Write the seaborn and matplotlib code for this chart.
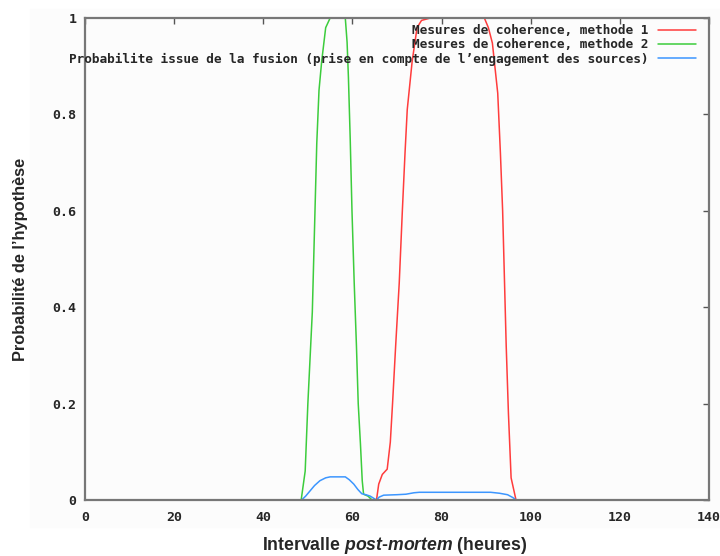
import numpy as np
import pandas as pd
import seaborn as sns
import matplotlib.pyplot as plt
from matplotlib.patches import Rectangle
from matplotlib.ticker import FuncFormatter

# curves (x in hours, y probability)
x_m1 = [0, 65.4, 65.9, 66.7, 67.8, 68.5, 69.0, 69.7, 70.5, 71.2, 71.8, 72.3, 73.4, 74.5, 75.5, 77.5,
        89.6, 90.5, 91.4, 92.6, 93.2, 93.7, 94.5, 95.0, 95.6, 96.7, 140]
y_m1 = [0, 0, 0.033, 0.053, 0.064, 0.12, 0.2, 0.32, 0.45, 0.60, 0.72, 0.81, 0.91, 0.98, 0.995, 1.0,
        1.0, 0.98, 0.948, 0.844, 0.72, 0.60, 0.32, 0.18, 0.046, 0, 0]

x_m2 = [0, 48.5, 49.4, 50.0, 51.0, 51.6, 52.0, 52.5, 53.1, 54.0, 55.0, 58.4, 58.8, 59.1, 59.5,
        59.9, 60.4, 60.9, 61.3, 61.8, 62.2, 62.5, 63.5, 64.4, 140]
y_m2 = [0, 0, 0.06, 0.2, 0.39, 0.6, 0.74, 0.85, 0.91, 0.98, 1.0, 1.0, 0.95, 0.877, 0.75,
        0.60, 0.45, 0.32, 0.2, 0.116, 0.04, 0.012, 0.008, 0, 0]

x_fus = [0, 48.6, 49.5, 50.5, 51.5, 52.7, 54.0, 55.0, 58.4, 59.3, 60.3, 61.2, 62.1, 63.0, 64.0,
         65.4, 66.0, 67.0, 70.0, 72.0, 73.8, 75.0, 91.0, 93.0, 94.8, 96.0, 96.7, 140]
y_fus = [0, 0, 0.008, 0.019, 0.03, 0.040, 0.046, 0.048, 0.048, 0.042, 0.033, 0.022, 0.013, 0.011, 0.008,
         0.0, 0.006, 0.01, 0.011, 0.012, 0.015, 0.016, 0.016, 0.014, 0.011, 0.005, 0, 0]

labels = ["Mesures de coherence, methode 1",
          "Mesures de coherence, methode 2",
          "Probabilite issue de la fusion (prise en compte de l\u2019engagement des sources)"]
colors = ["#ff3c3c", "#3ccc3c", "#3c96ff"]

sns.set_style("white")
plt.rcParams["mathtext.fontset"] = "custom"
plt.rcParams["mathtext.rm"] = "Liberation Sans:bold"
plt.rcParams["mathtext.it"] = "Liberation Sans:italic:bold"

fig = plt.figure(figsize=(7.2, 5.56), dpi=100)
# faint grey backdrop behind the plot, like the screenshot
bg = Rectangle((30 / 720, 1 - 527 / 556), 690 / 720, 518 / 556,
               transform=fig.transFigure, color="#fcfcfc", zorder=-10)
fig.add_artist(bg)
ax = fig.add_axes([85 / 720, 1 - 500 / 556, 624 / 720, 482 / 556])
ax.set_zorder(1)
ax.patch.set_alpha(0)

for xs, ys, lab, c in zip([x_m1, x_m2, x_fus], [y_m1, y_m2, y_fus], labels, colors):
    sns.lineplot(x=xs, y=ys, ax=ax, color=c, label=lab, linewidth=1.1, sort=False, estimator=None)

ax.set_xlim(0, 140)
ax.set_ylim(0, 1)
ax.set_xticks(np.arange(0, 141, 20))
ax.set_yticks(np.arange(0, 1.01, 0.2))
ax.yaxis.set_major_formatter(FuncFormatter(lambda v, p: "%g" % round(v, 2)))
ax.tick_params(direction="in", top=True, right=True, length=4, width=1, color="#555555",
               labelsize=9.5)
ax.tick_params(axis="x", pad=8)
ax.tick_params(axis="y", pad=6)
for lab in ax.get_xticklabels() + ax.get_yticklabels():
    lab.set_fontfamily("DejaVu Sans Mono")
    lab.set_fontweight("bold")
for s in ax.spines.values():
    s.set_color("#777777")
    s.set_linewidth(1.6)
    s.set_zorder(5)

leg = ax.legend(loc="upper right", bbox_to_anchor=(0.982, 0.990), frameon=False,
                markerfirst=False, handlelength=3.0, handletextpad=0.75, labelspacing=0.1,
                borderaxespad=0, borderpad=0.1,
                prop={"family": "DejaVu Sans Mono", "weight": "bold", "size": 9.2})

fig.text(21 / 720, 1 - 259 / 556, "Probabilit\u00e9 de l\u2019hypoth\u00e8se", rotation=90,
         ha="center", va="center", fontsize=11.8, fontweight="bold", family="Liberation Sans")
fig.text(395 / 720, 1 - 545 / 556, r"Intervalle $\mathit{post}$-$\mathit{mortem}$ (heures)",
         ha="center", va="center", fontsize=12.7, fontweight="bold", family="Liberation Sans")

plt.savefig("out.png", dpi=100)
